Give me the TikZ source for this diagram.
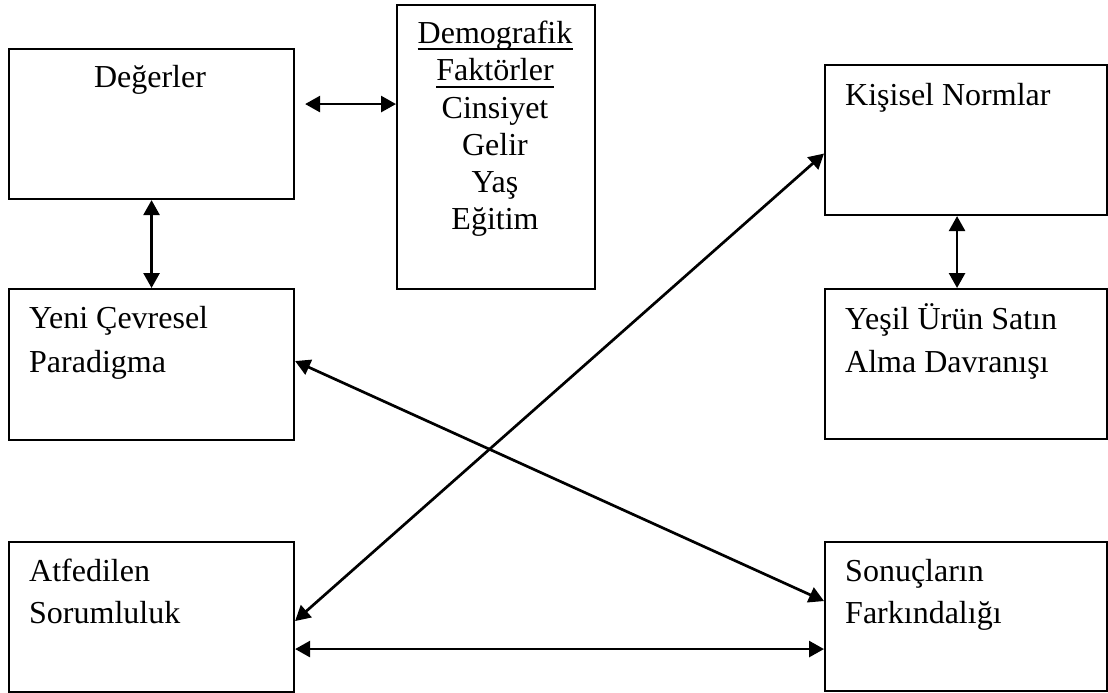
\documentclass[tikz,border=0pt]{standalone}
\usepackage{fontspec}
\setmainfont{Liberation Serif}
\usetikzlibrary{arrows.meta}
\begin{document}
\begin{tikzpicture}[x=1pt,y=-1pt,
  box/.style={draw,line width=2.1pt,inner sep=0pt,anchor=north west},
  txt/.style={anchor=base west,inner sep=0pt,font=\fontsize{32pt}{38pt}\selectfont},
  ctxt/.style={anchor=base,inner sep=0pt,font=\fontsize{32pt}{38pt}\selectfont},
  dbl/.style={line width=2.7pt,{Triangle[length=15pt,width=16pt]}-{Triangle[length=15pt,width=16pt]}}]
\useasboundingbox (0,0) rectangle (1108,693);
% boxes
\node[box,minimum width=285pt,minimum height=150pt] (deg) at (8,48) {};
\node[box,minimum width=198pt,minimum height=284pt] (demo) at (396,4) {};
\node[box,minimum width=282pt,minimum height=150pt] (kis) at (824,64) {};
\node[box,minimum width=282pt,minimum height=150pt] (yesil) at (824,288) {};
\node[box,minimum width=285pt,minimum height=151pt] (yeni) at (8,288) {};
\node[box,minimum width=285pt,minimum height=150pt] (atf) at (8,541) {};
\node[box,minimum width=282pt,minimum height=149pt] (son) at (824,541) {};
% texts
\node[ctxt] (tdeg) at (150,88) {Değerler};
\node[ctxt] (d1) at (495,44) {Demografik};
\node[ctxt] (d2) at (495,81) {Faktörler};
\node[ctxt] (d3) at (495,118) {Cinsiyet};
\node[ctxt] (d4) at (495,155) {Gelir};
\node[ctxt] (d5) at (495,192) {Yaş};
\node[ctxt] (d6) at (495,229) {Eğitim};
\draw[line width=2pt] ([yshift=-5.5pt]d1.base west) -- ([yshift=-5.5pt]d1.base east);
\draw[line width=2pt] ([yshift=-5.5pt]d2.base west) -- ([yshift=-5.5pt]d2.base east);
\node[txt] (tkis) at (845,105) {Kişisel Normlar};
\node[txt] (ty1) at (845,329) {Yeşil Ürün Satın};
\node[txt] (ty2) at (845,372) {Alma Davranışı};
\node[txt] (tn1) at (29,328) {Yeni Çevresel};
\node[txt] (tn2) at (29,372) {Paradigma};
\node[txt] (ta1) at (29,581) {Atfedilen};
\node[txt] (ta2) at (29,623) {Sorumluluk};
\node[txt] (ts1) at (845,581) {Sonuçların};
\node[txt] (ts2) at (845,623) {Farkındalığı};
% connectors
\draw[dbl] ([xshift=10pt,yshift=20pt]deg.east) -- ([yshift=20pt]deg.east -| demo.west);
\draw[dbl] (deg.south) -- (yeni.north);
\draw[dbl] ([xshift=-9pt]kis.south) -- ([xshift=-9pt]yesil.north);
\draw[dbl] ([yshift=3.5pt]yeni.east) -- ([yshift=15.5pt]son.west);
\draw[dbl] ([yshift=-4pt]atf.east) -- ([yshift=-13.5pt]kis.west);
\draw[dbl] ([yshift=-32pt]atf.east) -- ([yshift=-32pt]atf.east -| son.west);
\end{tikzpicture}
\end{document}
